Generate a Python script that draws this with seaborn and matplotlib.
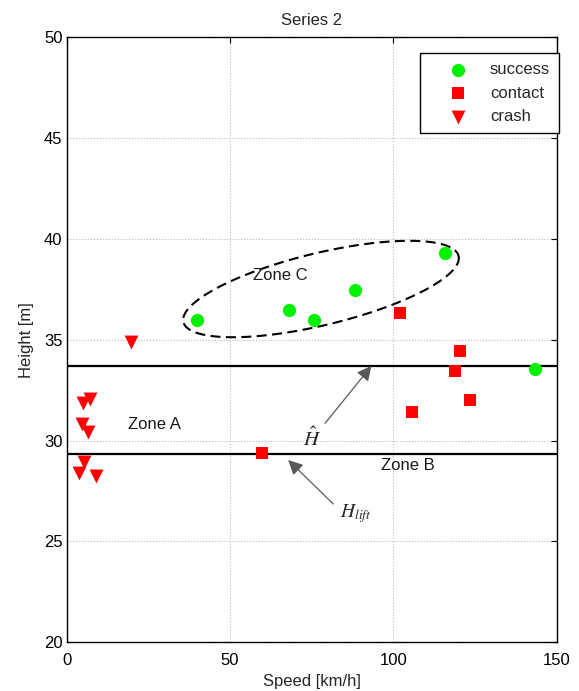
import numpy as np
import matplotlib
matplotlib.use('Agg')
import matplotlib.pyplot as plt
import seaborn as sns

# Outcomes of each run: speed [km/h] and height [m]
success_x = [39.8, 68.1, 75.7, 88.2, 115.7, 143.4]
success_y = [35.99, 36.48, 35.99, 37.47, 39.30, 33.57]
contact_x = [59.7, 102.0, 120.5, 118.9, 123.6, 105.7]
contact_y = [29.40, 36.35, 34.45, 33.44, 32.02, 31.42]
crash_x = [19.7, 7.0, 5.1, 4.6, 6.5, 5.4, 3.9, 9.0]
crash_y = [34.91, 32.05, 31.86, 30.81, 30.45, 28.93, 28.41, 28.25]

# reference heights
h_hat = 33.71
h_lift = 29.34

# zone C ellipse (centre, major and minor half-axis vectors in data units)
ell_c = (77.84, 37.52)
ell_u = (42.12, 1.64)
ell_v = (2.58, -1.74)

sns.set_style('white')
plt.rcParams['font.family'] = ['Liberation Sans', 'DejaVu Sans']
plt.rcParams['mathtext.fontset'] = 'stix'

fig = plt.figure(figsize=(5.79, 6.91), dpi=100)
ax = fig.add_axes([0.1152, 0.0705, 0.8463, 0.8754])

sns.scatterplot(x=success_x, y=success_y, ax=ax, color=(0, 0.95, 0), marker='o',
                s=90, linewidth=0, label='success', zorder=3)
sns.scatterplot(x=contact_x, y=contact_y, ax=ax, color=(1, 0, 0), marker='s',
                s=64, linewidth=0, label='contact', zorder=3)
sns.scatterplot(x=crash_x, y=crash_y, ax=ax, color=(1, 0, 0), marker='v',
                s=100, linewidth=0, label='crash', zorder=3)

ax.axhline(h_hat, color='k', lw=1.6, zorder=2)
ax.axhline(h_lift, color='k', lw=1.6, zorder=2)

t = np.linspace(0, 2 * np.pi, 200)
ex = ell_c[0] + ell_u[0] * np.cos(t) + ell_v[0] * np.sin(t)
ey = ell_c[1] + ell_u[1] * np.cos(t) + ell_v[1] * np.sin(t)
ax.plot(ex, ey, color='k', lw=1.5, dashes=(4.8, 2.6), zorder=2)

fs = 12
ax.text(65.3, 38.17, 'Zone C', fontsize=fs, ha='center', va='center', color='0.1')
ax.text(27.0, 30.78, 'Zone A', fontsize=fs, ha='center', va='center', color='0.1')
ax.text(104.5, 28.75, 'Zone B', fontsize=fs, ha='center', va='center', color='0.1')
ax.text(75.0, 30.12, r'$\hat{H}$', fontsize=15, ha='center', va='center')
ax.text(88.5, 26.4, r'$H_{lift}$', fontsize=14, ha='center', va='center')

arrow = dict(arrowstyle='-|>', color='0.35', lw=0.9, mutation_scale=22,
             shrinkA=0, shrinkB=0)
ax.annotate('', xy=(93.3, h_hat), xytext=(79.1, 30.86), arrowprops=arrow)
ax.annotate('', xy=(67.8, 29.04), xytext=(81.6, 26.86), arrowprops=arrow)

ax.set_xlim(0, 150)
ax.set_ylim(20, 50)
ax.set_xticks([0, 50, 100, 150])
ax.set_yticks(np.arange(20, 51, 5))
ax.grid(True, ls=':', color='0.72', lw=0.8)
ax.set_axisbelow(True)
ax.tick_params(direction='in', top=True, right=True, length=4, width=0.8,
               labelsize=fs, colors='k')
ax.tick_params(axis='x', pad=8)
ax.tick_params(axis='y', pad=3)
for sp in ax.spines.values():
    sp.set_color('k')
    sp.set_linewidth(1.0)

ax.set_title('Series 2', fontsize=fs, pad=9)
ax.set_xlabel('Speed [km/h]', fontsize=fs, labelpad=4)
ax.set_ylabel('Height [m]', fontsize=fs, labelpad=7)

leg = ax.legend(loc='upper right', bbox_to_anchor=(1.005, 0.974), fontsize=fs,
                frameon=True, fancybox=False, edgecolor='k', framealpha=1,
                borderpad=0.55, labelspacing=0.5, handletextpad=0.15,
                handlelength=3.5, borderaxespad=0)
leg.get_frame().set_linewidth(1.0)

fig.savefig('out.png', dpi=100)
